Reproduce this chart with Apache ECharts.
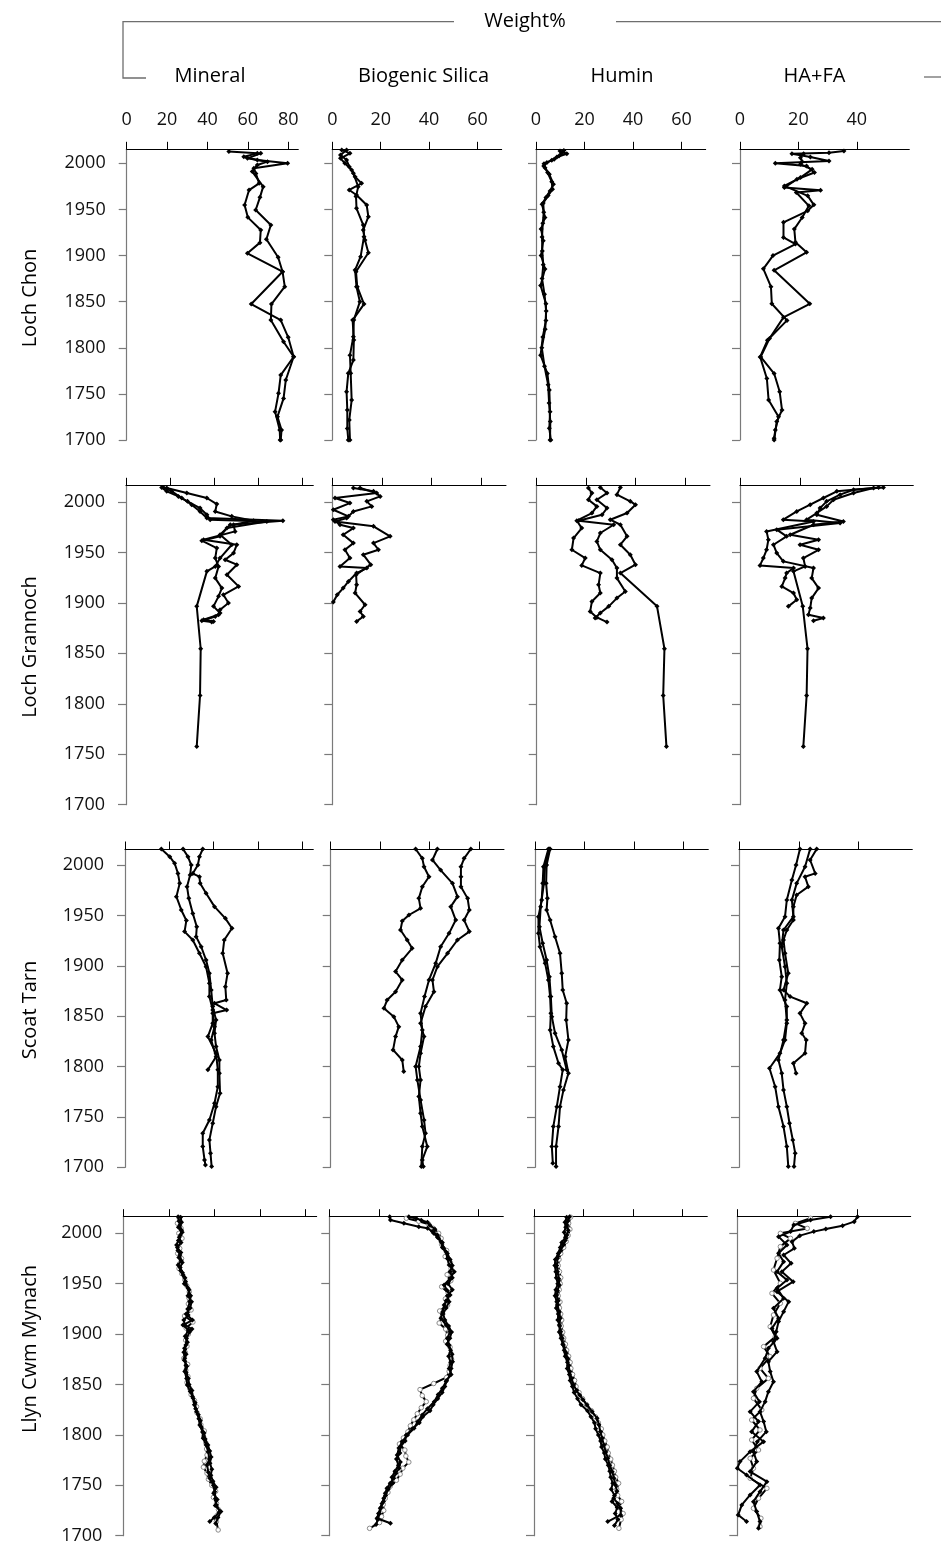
<!DOCTYPE html>
<html>
<head>
<meta charset="utf-8">
<script src="https://cdn.jsdelivr.net/npm/echarts@6/dist/echarts.min.js"></script>
<style>
html,body{margin:0;padding:0;background:#fff;}
#chart{width:941px;height:1546px;}
</style>
</head>
<body>
<div id="chart"></div>
<script>
// ---------- labels & ticks ----------
const lakes = ['Loch Chon', 'Loch Grannoch', 'Scoat Tarn', 'Llyn Cwm Mynach'];
const components = ['Mineral', 'Biogenic Silica', 'Humin', 'HA+FA'];
const headerTitle = 'Weight%';
const yearTicks = [1700, 1750, 1800, 1850, 1900, 1950, 2000];
const mineralTicks = [0, 20, 40, 60, 80];
const bsiTicks = [0, 20, 40, 60];
const huminTicks = [0, 20, 40, 60];
const hafaTicks = [0, 20, 40];
const xMaxByComponent = [85, 70, 70, 58];
const yearMaxByLake = [2015.2, 2016.6, 2015.9, 2016.5];

// ---------- data: [year, weight%] ----------
// Loch Chon
const chonMineral1 = [[2012.7,50.6],[2010.8,64.7],[2007.2,58],[2003.6,64.7],[2000,79.7],[1994.6,63],[1989,64],[1978.3,65.6],[1971,60.6],[1954.8,58.4],[1941.4,60],[1927.7,66.4],[1914,66],[1902.4,59.8],[1882.5,77.2],[1866.2,78.3],[1847.4,71.7],[1830,71.4],[1806.6,77.7],[1790.3,82.7],[1770.4,76.3],[1750.6,75.2],[1730.7,73.5],[1710.8,75.8],[1700,76]];
const chonMineral2 = [[2010.8,66.4],[2005.4,59.8],[2001.8,69.7],[1998.2,64.7],[1991,62.2],[1974.7,67.6],[1963.1,66],[1949.4,63.9],[1933.1,71.4],[1917.6,69.2],[1898.1,75],[1882.5,77.2],[1847.4,61.7],[1830,76.3],[1811.3,80],[1790.3,82.7],[1765,78.8],[1745.1,77.7],[1725.3,74.7],[1710.8,76.7],[1700,76.3]];
const chonBSi1 = [[2014.5,3.9],[2010.8,7.3],[2005.4,3.4],[2000,5.2],[1992.8,8],[1985.5,9.4],[1978.3,12.1],[1971.1,7],[1965.7,10],[1954.8,14.2],[1942.2,14.9],[1927.7,12.8],[1916.9,13.5],[1903.1,14.9],[1882.5,9.8],[1866.2,10.3],[1847.4,13.1],[1830,8.4],[1808.4,8.9],[1786.7,8.7],[1772.3,6.6],[1752.4,5.9],[1732.5,6.2],[1712.6,6.2],[1700,6.6]];
const chonBSi2 = [[2014.5,5.9],[2009,3.4],[2003.6,5.9],[1996.4,7],[1989.2,8.7],[1974.7,10.7],[1963.9,9.8],[1951.2,10],[1933.1,12.8],[1920.5,13.1],[1898.8,11.7],[1884.3,9.4],[1866.2,10],[1850,11.4],[1830,8.9],[1812,8.7],[1792,7.3],[1772.3,7.6],[1743.3,8],[1721.6,7],[1700,7.3]];
const chonHumin1 = [[2013.3,9.9],[2010.4,12.7],[2006.8,8.6],[2003.2,6.5],[1999.6,3.3],[1995.3,3.7],[1988.1,5.5],[1977.3,7.2],[1970.1,5.8],[1962.9,4.1],[1955.7,2.5],[1941.3,3.7],[1928.7,2.1],[1916.1,3],[1900,2.1],[1885.5,3.7],[1867.5,1.9],[1847.7,4.1],[1829.7,4.1],[1811.7,2.8],[1791.9,1.9],[1772.1,4.7],[1754.1,5.5],[1730.7,5.8],[1712.7,5.5],[1700,6.1]];
const chonHumin2 = [[2014,11.5],[2011,10.5],[2008,9.5],[2004.5,7.5],[2001,4.5],[1997,3.2],[1990,4.8],[1980,6.5],[1972,6.8],[1965,5],[1957,3],[1947,3.2],[1935,2.8],[1920,2.5],[1905,2.6],[1890,3],[1875,2.5],[1858,3.5],[1840,4.2],[1820,3.8],[1800,2.4],[1780,3.5],[1760,5],[1740,5.4],[1720,5.9],[1700,5.8]];
const chonHAFA1 = [[2013.3,35.6],[2011.5,30.5],[2010.4,17.8],[2006.8,24.1],[2002.5,30.5],[2000,12.1],[1997,22.8],[1990,25.5],[1982.7,19.5],[1973.7,15.2],[1970.8,27.6],[1968.3,19.3],[1953.9,23.6],[1941.3,21.3],[1928.7,18.6],[1914.3,19],[1903.5,22.8],[1884,11.7],[1847.7,23.9],[1833,14.9],[1810,10.1],[1790.1,7.1],[1772.1,11.7],[1752.3,13.6],[1732.5,14.4],[1720,12.6],[1700,11.7]];
const chonHAFA2 = [[2010.4,21.8],[2006.1,20.7],[2001.8,21.3],[1998.9,20.7],[1993.5,24.7],[1984.5,20.7],[1975.5,15.2],[1964.7,23.2],[1955,25.3],[1948.5,23.2],[1936,14.9],[1919.7,14.9],[1912.5,19],[1900,11.3],[1885.6,8],[1866.2,10.6],[1847.7,10.9],[1829.7,16.1],[1808.1,9.4],[1790.1,6.9],[1766.7,9.2],[1743.3,9.8],[1725.3,13.2],[1710.9,12.1],[1701.9,11.7]];

// Loch Grannoch
const granMineral1 = [[2014.5,17],[2010.6,20.8],[2004,25.3],[1997.4,29.8],[1990.7,33.6],[1984.1,36.7],[1981.5,71.2],[1977.5,47.3],[1967.6,42.7],[1957.7,48],[1944.5,42.7],[1936.2,40.5],[1931.3,36.7],[1896.6,32.1],[1854.6,33.9],[1808.3,33.6],[1757.8,32.1]];
const granMineral2 = [[2013.9,18.5],[2008.9,27.6],[2004,36.7],[1998,41.2],[1990.7,40.5],[1985.8,48],[1981.5,57.9],[1977.5,48.8],[1970.9,49.5],[1962.7,35.2],[1957.7,50.3],[1949.4,48.8],[1942.8,45],[1937.9,50.3],[1928,45.8],[1916.4,51.1],[1908.1,44.2],[1899.9,46.5],[1893.3,42.7],[1888.3,42],[1883.3,35.2],[1881.7,39.7]];
const granMineral3 = [[2014.5,16.2],[2010.6,18.5],[2005.6,23.8],[2000.7,27.9],[1994,33.6],[1987.4,36.7],[1982.5,38.2],[1980.8,63.9],[1974.2,45.8],[1966,42.7],[1961.7,34.4],[1954.4,41.2],[1944.5,40.5],[1936.2,42],[1924.6,40.5],[1914.7,43.5],[1906.5,42],[1896.6,39.7],[1890,42.7],[1886.6,40.5],[1882.3,34.4],[1881,38.9]];
const granBSi1 = [[2013.9,8.5],[2010.6,16.6],[2005.6,19.3],[2000.7,13.9],[1995.7,15.9],[1990.7,8.5],[1984.1,5.8],[1980.8,1.1],[1975.9,16.6],[1966,23.3],[1959.3,16.6],[1952.7,18.6],[1947.8,12.5],[1937.9,15.5],[1928,9.6],[1918,9.8],[1909.8,9.2],[1898.2,13.2],[1891.6,11.2],[1886.6,12.5],[1881.7,9.8]];
const granBSi2 = [[2013.9,11.2],[2008.9,17.9],[2004,1.1],[1999,7.1],[1992.4,0.4],[1985.8,6.5],[1982.5,0.4],[1977.5,3.1],[1974.2,8.5],[1967.6,4.4],[1959.3,8.5],[1952.7,5.1],[1944.5,7.1],[1936.2,3.1],[1934.6,13.9],[1929.6,9.8],[1921.3,6.5],[1914.7,4.4],[1908.1,2],[1900.9,0.4]];
const granHumin1 = [[2014.5,33.8],[2007.3,32.4],[2000.7,37.8],[1997.4,39.9],[1989.1,36.5],[1982.5,29.7],[1977.5,33.8],[1966,36.5],[1957.7,33.8],[1947.8,37.8],[1937.9,39.9],[1929.6,33.8],[1896.6,48.6],[1854.6,51.6],[1808.3,51.1],[1757.8,52.4]];
const granHumin2 = [[2014.5,25.7],[2008.9,28.4],[2002.3,24.3],[1994,28.4],[1987.4,26.4],[1981.5,16.9],[1977.5,31.1],[1969.3,25.7],[1961,24.3],[1952.7,25.7],[1942.8,30.4],[1934.6,32.4],[1924.6,32.4],[1911.4,35.8],[1904.8,32.4],[1896.6,29.1],[1890,25.7],[1885,23.6]];
const granHumin3 = [[2013.9,20.9],[2008.9,22.3],[2002.3,20.9],[1995.7,24.3],[1989.1,22.3],[1981.5,16.2],[1974.2,18.2],[1964.3,14.9],[1952.7,14.2],[1944.5,19.6],[1937.2,18.2],[1929.6,25.7],[1918,25],[1909.8,25.7],[1901.5,22.3],[1891.6,21.6],[1885.6,24.3],[1881,28.4]];
const granHAFA1 = [[2014.5,48],[2012.2,38],[2007.3,33.5],[2000.7,29],[1994,26.8],[1987.4,25.7],[1980.8,34.6],[1977.5,24.6],[1967.6,16.8],[1962.7,26.3],[1957.7,20.1],[1952.7,26.3],[1944.5,21.2],[1936.2,21.8],[1931.3,17.9],[1896.6,21],[1854.6,22.6],[1808.3,22.3],[1757.8,21.2]];
const granHAFA2 = [[2014.5,46.4],[2010.6,32.4],[2004,27.9],[1997.4,23.5],[1990.7,19],[1982.5,14.5],[1980.8,24.6],[1970.9,8.9],[1962.7,9.5],[1952.7,8.9],[1944.5,7.8],[1937.2,6.7],[1934.6,17.9],[1929.6,15.6],[1924.6,15.1],[1916.4,14],[1909.8,17.9],[1903.2,19],[1896.6,16.2]];
const granHAFA3 = [[2013.9,44.7],[2008.9,38],[2002.3,31.3],[1995.7,29],[1989.1,25.7],[1982.5,22.3],[1979.2,33.5],[1972.6,12.3],[1966,15.6],[1957.7,11.2],[1949.4,12.3],[1941.2,14.5],[1934.6,24.6],[1924.6,24],[1914.7,26.3],[1904.8,24],[1894.9,23.5],[1888.3,22.9],[1885,27.9],[1882.3,24.6]];

// Scoat Tarn
const scoatMineral1 = [[2015.9,16.4],[2008.3,20.2],[2001.7,22.4],[1991.7,23.9],[1981.8,24.7],[1968.6,23.2],[1955.4,25.4],[1945,27.7],[1933.9,26.9],[1925.6,30.6],[1912.4,33.6],[1899.1,36.6],[1882.6,38.1],[1869.4,38.1],[1856.1,39.6],[1842.9,39.6],[1829.7,37.4],[1813.1,41.1],[1796.7,41.9],[1780,41.9],[1763.5,40.4],[1747,38.1],[1733.8,35.1],[1720.6,35.1],[1707.3,35.9],[1702.4,36.3]];
const scoatMineral2 = [[2015.9,26.2],[2008.3,28.4],[2000,29.9],[1990,29.4],[1978.5,28],[1966.9,28.8],[1952,30.6],[1938.8,32.4],[1928.9,32.1],[1918.9,34.4],[1905.7,36.6],[1892.5,38.1],[1876,38.9],[1859.5,39.6],[1846.2,41.1],[1833,40.4],[1819.8,41.1],[1806.5,42.6],[1793.3,42.6],[1773.5,42.9],[1760.2,41.1],[1743.7,39.6],[1727.2,38.1],[1714,38.6],[1700.7,39.1]];
const scoatMineral3 = [[2015.9,35.1],[2008.3,33.6],[2000,32.9],[1991.5,30.6],[1988.4,33.6],[1981.8,33.9],[1971.9,36.6],[1958.7,40.4],[1947.1,45.3],[1937.2,48.3],[1925.6,44.8],[1912.4,44.1],[1892.5,46.3],[1879.3,45.3],[1866.1,45.7],[1862.8,40.4],[1856.1,45.9],[1852.8,39.6],[1839.6,40.4],[1826.4,38.9],[1809.8,41.1],[1796.7,37.4]];
const scoatBSi1 = [[2015.9,34.3],[2006.6,37],[1998.3,37.7],[1988.4,39.7],[1978.5,37],[1966.9,35.6],[1957,36.3],[1950.4,31.6],[1944.4,28.9],[1935.5,28.2],[1925.6,30.9],[1917.3,32.9],[1905.7,28.9],[1894.2,26.2],[1885.9,28.9],[1874.3,26.2],[1866.1,22.8],[1857.8,21.5],[1849.5,25.5],[1839.6,27.5],[1829.7,26.2],[1816.5,25.2],[1806.5,28.9],[1795,29.5]];
const scoatBSi2 = [[2015.9,43.1],[2005,41.1],[1995,44.4],[1981.8,49.2],[1968.6,51.2],[1958.7,48.5],[1945.4,50.5],[1932.2,47.8],[1918.9,44.4],[1902.4,42.4],[1885.9,39.7],[1869.4,37.9],[1852.8,36.3],[1836.3,37],[1819.8,36.3],[1800,34.3],[1786.7,35],[1766.9,36.3],[1747,37.7],[1733.8,38.3],[1720.6,37],[1700.7,36.6]];
const scoatBSi3 = [[2015.9,56.6],[2006.6,53.9],[1998.3,52.6],[1988.4,52.6],[1978.5,52.6],[1966.9,55.3],[1955.4,56],[1945.4,53.9],[1933.9,56],[1925.6,51.2],[1912.4,47.2],[1899.1,43.1],[1885.9,41.1],[1874.3,41.7],[1859.5,38.3],[1842.9,36.3],[1829.7,37.7],[1813.1,36.3],[1800,35.6],[1786.7,36.3],[1770.2,35.6],[1753.6,36.3],[1740.4,37],[1720.6,39],[1707.3,37],[1700.7,37.4]];
const scoatHumin1 = [[2015.9,6.1],[2000,4.7],[1981.8,4.5],[1966.9,5],[1955.4,4.7],[1945.4,6.1],[1928.9,8.1],[1912.4,10.1],[1892.5,10.8],[1876,11.2],[1862.8,12.8],[1846.2,12.6],[1826.4,13.5],[1809.8,12.2],[1793.3,13.5],[1776.8,11.5],[1760.2,10.1],[1740.4,9.5],[1720.6,8.5],[1700.7,8.5]];
const scoatHumin2 = [[2015.9,5.4],[1998.3,3.4],[1981.8,3.1],[1965.3,2.7],[1948.7,1.4],[1932.2,1.4],[1918.9,2],[1902.4,4.1],[1885.9,5.4],[1869.4,6.1],[1852.8,6.4],[1836.3,6.1],[1819.8,7.4],[1803.3,9.5],[1796.7,11.2],[1780,10.1],[1760.2,8.8],[1740.4,7.4],[1720.6,6.8],[1704,7.2]];
const scoatHumin3 = [[2015.9,5.8],[2000,4.1],[1981.8,3.6],[1958.7,2.3],[1938.8,1.8],[1922.3,3.1],[1905.7,4.7],[1889.2,5.8],[1869.4,6.4],[1849.5,6.8],[1833,8.1],[1816.5,10.8],[1796.7,12.8]];
const scoatHAFA1 = [[2015.9,26],[2005,23.8],[1991.7,25.5],[1988.4,22.1],[1978.5,23.2],[1970.2,19.3],[1958.7,18.2],[1945.4,18.2],[1935.5,16],[1925.6,14.9],[1912.4,15.4],[1892.5,16.5],[1876,14.9],[1869.4,17.1],[1862.8,22.7],[1852.8,20.4],[1842.9,22.1],[1833,21],[1826.4,22.5],[1813.1,22.1],[1803.3,18.2],[1793.3,19.1]];
const scoatHAFA2 = [[2015.9,20.4],[2000,19.1],[1985.1,17.7],[1965.3,16],[1948.7,15.4],[1937.2,13.2],[1922.3,13.7],[1905.7,13.5],[1889.2,14.3],[1876,13.7],[1859.5,16],[1842.9,16],[1826.4,15.4],[1813.1,13.7],[1798.3,10.2],[1780,12.1],[1760.2,13.2],[1740.4,14.9],[1720.6,16],[1700.7,16.5]];
const scoatHAFA3 = [[2015.9,23.8],[1998.3,22.1],[1981.8,19.3],[1965.3,17.7],[1948.7,18.2],[1935.5,14.9],[1919,14.3],[1899.1,15.4],[1882.6,16],[1866.1,15.4],[1846.2,16],[1826.4,14.9],[1806.5,13.2],[1793.3,14.3],[1776.8,14.9],[1760.2,16],[1743.7,16.9],[1727.2,18],[1714,18.8],[1700.7,18.4]];

// Llyn Cwm Mynach
const lcmMineral1 = [[2016.5,24.1],[2012,24.5],[2008.3,24.9],[2003,25.6],[1998.3,25.1],[1993,24.2],[1988.4,23.4],[1983,24],[1978.5,24.9],[1973,25.4],[1968.6,24.1],[1963,25.2],[1958.7,26.3],[1952,27.4],[1945.4,28.5],[1938,29.6],[1932.2,29.2],[1925,28.3],[1919,28.5],[1914,26.6],[1909.1,27],[1905,30.2],[1902.4,29.2],[1896,27.8],[1889.2,27.5],[1882,26.6],[1876,27],[1869,27.5],[1862.8,27],[1856,27.8],[1849.5,28.1],[1843,29.4],[1836.3,30.7],[1830,31.2],[1823.1,32.2],[1816,33.2],[1809.8,33.6],[1803,34.8],[1796.6,35.1],[1790,36.4],[1783.4,37.3],[1776,37.8],[1770.2,36.8],[1763,37.4],[1756.9,38],[1750,39.6],[1743.7,40.2],[1737,40.5],[1730.5,40.9],[1723.9,42.4],[1718,40],[1714,38]];
const lcmMineral2 = [[2016,25.2],[2011,25.6],[2006,24.2],[2001,25.9],[1996,24.6],[1991,25.4],[1986,23.8],[1981,25.3],[1976,24.4],[1971,25.9],[1966,25],[1961,26],[1956,27.1],[1950,26.8],[1944,28.9],[1938,28.4],[1932,30],[1926,29.4],[1920,27.6],[1914,30.4],[1909,26.2],[1904,28.6],[1898,27.2],[1892,28.2],[1886,26.9],[1880,27.6],[1874,26.8],[1868,27.9],[1862,27.6],[1856,28.6],[1850,28.9],[1844,30.2],[1838,30.4],[1832,31.6],[1826,31.8],[1820,33],[1814,33.9],[1808,34.2],[1802,35.5],[1796,36],[1790,37.2],[1784,38],[1778,38.6],[1772,38.1],[1766,38.9],[1760,38.5],[1754,39.4],[1748,40.8],[1742,39.7],[1736,41.3],[1730,40.4],[1724,42.9],[1718,41.6],[1712,40.6]];
const lcmMineral3 = [[2015,24.6],[2010,23.8],[2005,25.4],[2000,24.4],[1995,25.8],[1990,24.6],[1985,24.8],[1980,23.9],[1975,25.6],[1970,24.8],[1965,24.5],[1960,25.7],[1954,27],[1948,27.9],[1942,29],[1936,28.8],[1930,28.6],[1924,29.8],[1918,26.9],[1912,30.6],[1906,27.6],[1900,28.6],[1894,27.4],[1888,28],[1882,27.2],[1876,26.6],[1870,28.3],[1864,27.5],[1858,28.4],[1852,28],[1846,29.2],[1840,29.8],[1834,31.3],[1828,32.2],[1822,32.4],[1816,33.8],[1810,34.1],[1804,35.6],[1798,35.3],[1792,36.3],[1786,36.6],[1780,36.8],[1774,35.6],[1768,35.2],[1762,36.8],[1756,37.4],[1750,38.9],[1744,40.6],[1738,39.6],[1732,41],[1726,41.8],[1720,41.2],[1714,40.9],[1705.7,41.7]];
const lcmBSi1 = [[2016.5,24.3],[2013.2,24.6],[2010,30],[2006.6,36],[2005,39.5],[2001.7,41.5],[1998.3,43.5],[1995,44],[1991.7,44.9],[1986,45.5],[1981.8,46.9],[1975,47.5],[1968.6,48.2],[1962,50.3],[1955,48.5],[1948.7,46.2],[1943,47.5],[1938.8,48.6],[1933,47],[1928.9,46.2],[1922,45.6],[1915.7,44.9],[1909,47],[1902.4,48.6],[1896,47.5],[1889.2,48.2],[1880,49.4],[1872.7,49.6],[1866,49],[1859.5,48.6],[1853,47],[1846.2,45.5],[1840,43.8],[1833,42.2],[1826,39.5],[1819.8,37.4],[1813,35.5],[1806.5,34.1],[1800,31.5],[1793.3,29.3],[1787,28],[1780.1,27.3],[1773,28.6],[1766.9,28.1],[1762,26.8],[1757,25.9],[1752,24.5],[1747,23.2],[1742,22.5],[1737.1,21.9],[1732,21.2],[1727.2,20.5],[1722,19.8],[1717.3,19.2],[1712.3,24.6]];
const lcmBSi2 = [[2016.5,32],[2014.8,35],[2013,37],[2011,39.5],[2008,40.5],[2004,42.5],[2000,42],[1996,43.5],[1991,45.5],[1985,46],[1980,47.5],[1974,48.6],[1968,49.5],[1962,48.6],[1956,49.5],[1950,47.8],[1944,49.5],[1938,47.5],[1932,48.2],[1926,47],[1920,45.8],[1914,46.5],[1908,48],[1902,49.2],[1896,48.5],[1890,47.4],[1884,48.8],[1878,48],[1872,48.8],[1866,48.2],[1860,49],[1854,47.2],[1848,46.5],[1842,45.4],[1836,43.6],[1830,41.8],[1824,40.5],[1818,37.6],[1812,36.2],[1806,33.4],[1800,31],[1794,30.5],[1788,28.6],[1782,28.4],[1776,27],[1770,27.8],[1764,26.4],[1758,25.2],[1752,25.5],[1746,23.7],[1740,22.6],[1734,21.8],[1728,20.8],[1722,20.2],[1716,19.5],[1711,18.8]];
const lcmBSi3 = [[2015,31],[2012,36],[2009,40],[2005,41.8],[2000,44],[1995,45],[1989,45.2],[1983,47.2],[1977,46.6],[1971,48.7],[1965,49],[1959,47.4],[1953,48.9],[1947,45.2],[1941,47.8],[1935,46.7],[1929,47.6],[1923,44.4],[1917,45.4],[1911,44.2],[1905,46.8],[1899,47.6],[1893,46.8],[1887,48.6],[1881,48.9],[1875,49.2],[1869,48.6],[1863,48.2],[1857,47.2],[1851,42],[1845,36.5],[1839,37.4],[1833,39],[1827,37],[1821,35.4],[1815,34],[1809,32.6],[1803,31.6],[1797,29.8],[1791,28.2],[1785,30.4],[1779,30.8],[1773,32],[1767,29.6],[1761,28.5],[1755,27],[1749,24.5],[1743,23.6],[1737,22.5],[1731,21.7],[1725,21.9],[1719,21],[1713,20.2],[1707.3,16.2]];
const lcmHumin1 = [[2016.5,14.4],[2012,13.6],[2008.3,13.3],[2003,13.8],[1998.3,13.3],[1993,12.6],[1988.4,11.9],[1982,10.5],[1975.2,9.5],[1968,9.2],[1962,9.5],[1955,10],[1948.7,10.2],[1943,9.5],[1938.8,9.2],[1933,9.8],[1928.9,9.5],[1922,10.2],[1915.7,10.6],[1909,10.2],[1902.4,10.8],[1896,11.4],[1889.2,11.9],[1882,12.8],[1876,13.6],[1869,14],[1862.8,14.4],[1856,15.2],[1849.5,16],[1844,17.2],[1839.6,18.4],[1835,19.8],[1829.7,21.4],[1823,23.5],[1816.5,25.5],[1810,26.2],[1803.3,26.8],[1797,27.5],[1790,28.2],[1783,29],[1776.8,29.8],[1770,30.6],[1763.5,31.6],[1757,32.3],[1750.3,32.9],[1744,33.5],[1737.1,32.2],[1732,33.8],[1727.2,35],[1720.6,35],[1714,29.8]];
const lcmHumin2 = [[2016,13.2],[2011,12.5],[2006,12.8],[2001,12.2],[1996,12.7],[1991,11.2],[1986,10.6],[1980,9.8],[1974,8.6],[1968,8.4],[1962,8.8],[1956,9],[1950,9.6],[1944,8.8],[1938,8.5],[1932,9.2],[1926,9],[1920,9.8],[1914,9.6],[1908,10.4],[1902,10.2],[1896,10.9],[1890,11.6],[1884,12.2],[1878,12.6],[1872,13.5],[1866,13.4],[1860,14.3],[1854,14.6],[1848,15.5],[1842,16.2],[1836,17.6],[1830,19],[1824,21.6],[1818,23],[1812,24.4],[1806,24.9],[1800,26],[1794,26.9],[1788,27.3],[1782,28.4],[1776,28.8],[1770,30],[1764,30.6],[1758,31],[1752,31.8],[1746,31.2],[1740,32.5],[1734,31.5],[1728,33.6],[1722,32.8],[1716,33.9],[1710,32.5]];
const lcmHumin3 = [[2016,14.8],[2010,14],[2004,14.5],[1998,13.8],[1992,13],[1986,12],[1980,10.8],[1974,10.1],[1968,9.8],[1962,10.3],[1956,10.8],[1950,10.6],[1944,10.2],[1938,9.8],[1932,10.5],[1926,10.3],[1920,10.8],[1914,11.2],[1908,11],[1902,11.6],[1896,12],[1890,12.7],[1884,13.2],[1878,14],[1872,14.6],[1866,14.9],[1860,15.6],[1854,16.4],[1848,17],[1842,18.2],[1836,19.6],[1830,21.2],[1824,23.2],[1818,24.8],[1812,26],[1806,27.2],[1800,27.8],[1794,28.6],[1788,29.6],[1782,30],[1776,31],[1770,31.7],[1764,32.5],[1758,33],[1752,34.2],[1746,33.4],[1740,33.8],[1734,35.4],[1728,34.4],[1722,36],[1716,35.2],[1707.3,34.3]];
const lcmHAFA1 = [[2016.5,40.2],[2011.6,39.1],[2007.6,35.2],[2004.3,29.6],[2001.7,25.6],[1997.7,20.9],[1991.7,18.3],[1985.1,19.1],[1978.5,15.5],[1970.2,18],[1962,14.9],[1952,18.7],[1942.1,13.3],[1932.2,17.2],[1922.3,15.5],[1912.4,13.8],[1902.4,13],[1892.5,12.1],[1882.6,13.3],[1872.7,10.4],[1862.8,11],[1852.8,12.1],[1842.9,10.4],[1833,9.3],[1823.1,7.6],[1813.2,8.8],[1803.2,9.7],[1793.3,6.7],[1783.4,5.4],[1773.5,6.5],[1763.6,4.3],[1753.6,9.9],[1743.7,7.6],[1733.8,5.4],[1723.9,6.5],[1714,7.6],[1707.3,7.1]];
const lcmHAFA2 = [[2016.5,31.2],[2013.2,24.5],[2008.3,18.9],[2001.7,17.8],[1996.7,13.8],[1988.4,16.6],[1980.2,13.8],[1971.9,15.5],[1962,13.3],[1953.7,16.6],[1945.4,13.3],[1935.5,15.5],[1925.6,12.1],[1915.7,13.8],[1905.7,11.6],[1895.8,13.3],[1885.9,10.4],[1876,9.3],[1862.8,6.5],[1852.8,8.2],[1842.9,5.4],[1833,7.4],[1823.1,4.3],[1813.2,7.1],[1803.2,4.8],[1793.3,8.8],[1783.4,4.3],[1773.5,0.9],[1766.9,0],[1760.2,3.1],[1750.3,7.6],[1740.4,4.3],[1730.5,1.5],[1720.6,0.3],[1714,3.1]];
const lcmHAFA3 = [[2014.9,24.5],[2009.9,19.4],[2004.9,23.4],[2000,14.4],[1995,17.8],[1986.8,14.4],[1975.2,13.3],[1963.6,12.1],[1950.4,14.4],[1940.5,11.6],[1930.6,14.4],[1919,12.1],[1907.4,11],[1897.5,12.7],[1887.6,8.8],[1877.7,11],[1866.1,7.6],[1856.1,10.4],[1846.2,6.5],[1836.3,5.4],[1824.8,8.2],[1814.8,4.8],[1804.9,7.6],[1795,4.8],[1785,7.1],[1776.8,4.3],[1766.9,5.4],[1757,4.3],[1747,9.9],[1737.1,7.1],[1727.2,5.4],[1717.3,7.9],[1709,7.6]];

// ---------- panel -> series mapping ----------
const panelData = [
  [[chonMineral1, chonMineral2], [chonBSi1, chonBSi2], [chonHumin1, chonHumin2], [chonHAFA1, chonHAFA2]],
  [[granMineral1, granMineral2, granMineral3], [granBSi1, granBSi2], [granHumin1, granHumin2, granHumin3], [granHAFA1, granHAFA2, granHAFA3]],
  [[scoatMineral1, scoatMineral2, scoatMineral3], [scoatBSi1, scoatBSi2, scoatBSi3], [scoatHumin1, scoatHumin2, scoatHumin3], [scoatHAFA1, scoatHAFA2, scoatHAFA3]],
  [[lcmMineral1, lcmMineral2, lcmMineral3], [lcmBSi1, lcmBSi2, lcmBSi3], [lcmHumin1, lcmHumin2, lcmHumin3], [lcmHAFA1, lcmHAFA2, lcmHAFA3]]
];
const xTicksByComponent = [mineralTicks, bsiTicks, huminTicks, hafaTicks];

// ---------- layout (pixels) ----------
const rowTB = [[149.3, 440], [485.3, 804.7], [849, 1167.3], [1216.7, 1535.7]];
const colLR = [
  [[126.7, 298.3], [332.3, 501.7], [536, 705.7], [740, 909.3]],
  [[126, 313.3], [332.3, 506], [536.7, 710], [740, 913.3]],
  [[125, 313.3], [330.7, 504], [535, 708.3], [739, 912.3]],
  [[123.3, 316.7], [329.3, 503.3], [534, 707.3], [737.3, 910.7]]
];
const rowLabelY = [298, 647, 1010, 1349];
const FONT = '"Open Sans", "Noto Sans", sans-serif';

const grids = [], xAxes = [], yAxes = [], series = [];
let gi = 0;
for (let r = 0; r < 4; r++) {
  for (let c = 0; c < 4; c++) {
    const [l, rr] = colLR[r][c];
    const [t, b] = rowTB[r];
    grids.push({ left: l, top: t, width: rr - l, height: b - t, containLabel: false, outerBoundsMode: 'none' });
    xAxes.push({
      type: 'value', gridIndex: gi, position: 'top', min: 0, max: xMaxByComponent[c],
      interval: 20,
      axisLine: { show: true, onZero: false, lineStyle: { color: '#000', width: 1 } },
      axisTick: { show: true, inside: false, length: 7.5, customValues: xTicksByComponent[c], lineStyle: { color: '#000', width: 1 } },
      axisLabel: { show: r === 0, customValues: xTicksByComponent[c], margin: 20, fontFamily: FONT, fontSize: 18, color: '#111', formatter: v => String(v) },
      splitLine: { show: false }
    });
    yAxes.push({
      type: 'value', gridIndex: gi, min: 1700, max: yearMaxByLake[r], interval: 50,
      axisLine: { show: true, onZero: false, lineStyle: { color: '#7a7a7a', width: 1.2 } },
      axisTick: { show: true, length: 8, customValues: yearTicks, lineStyle: { color: '#7a7a7a', width: 1.2 } },
      axisLabel: { show: c === 0, customValues: yearTicks, margin: 21, fontFamily: FONT, fontSize: 18, color: '#111', formatter: v => String(Math.round(v)) },
      splitLine: { show: false }
    });
    panelData[r][c].forEach((arr, k) => {
      const hollow = (r === 3 && k === 2);
      series.push({
        type: 'line', xAxisIndex: gi, yAxisIndex: gi,
        data: arr.map(p => [p[1], p[0]]),
        symbol: hollow ? 'circle' : 'diamond',
        symbolSize: hollow ? 4.5 : 5,
        showSymbol: true,
        lineStyle: { color: '#000', width: 2 },
        itemStyle: hollow ? { color: '#fff', borderColor: '#8a8a8a', borderWidth: 1 } : { color: '#000' },
        z: hollow ? 1 : 2,
        animation: false
      });
    });
    gi++;
  }
}

const graphics = [
  { type: 'text', x: 525, y: 21, style: { text: headerTitle, fontFamily: FONT, fontSize: 20, fill: '#000', align: 'center', verticalAlign: 'middle' } },
  { type: 'polyline', shape: { points: [[146, 78], [123, 78], [123, 21.7], [454, 21.7]] }, style: { stroke: '#6e6e6e', lineWidth: 1.3, fill: null } },
  { type: 'line', shape: { x1: 616, y1: 21.7, x2: 941, y2: 21.7 }, style: { stroke: '#6e6e6e', lineWidth: 1.3 } },
  { type: 'line', shape: { x1: 924, y1: 77, x2: 941, y2: 77 }, style: { stroke: '#6e6e6e', lineWidth: 1.3 } }
];
const titleX = [210, 423.5, 622, 814.5];
components.forEach((name, i) => {
  graphics.push({ type: 'text', x: titleX[i], y: 76, style: { text: name, fontFamily: FONT, fontSize: 20, fill: '#000', align: 'center', verticalAlign: 'middle' } });
});
lakes.forEach((name, i) => {
  graphics.push({ type: 'text', x: 30, y: rowLabelY[i], rotation: Math.PI / 2, style: { text: name, fontFamily: FONT, fontSize: 20, fill: '#000', align: 'center', verticalAlign: 'middle' } });
});

const chart = echarts.init(document.getElementById('chart'), null, { renderer: 'canvas' });
chart.setOption({
  backgroundColor: '#fff',
  animation: false,
  grid: grids,
  xAxis: xAxes,
  yAxis: yAxes,
  series: series,
  graphic: graphics
});
</script>
</body>
</html>
